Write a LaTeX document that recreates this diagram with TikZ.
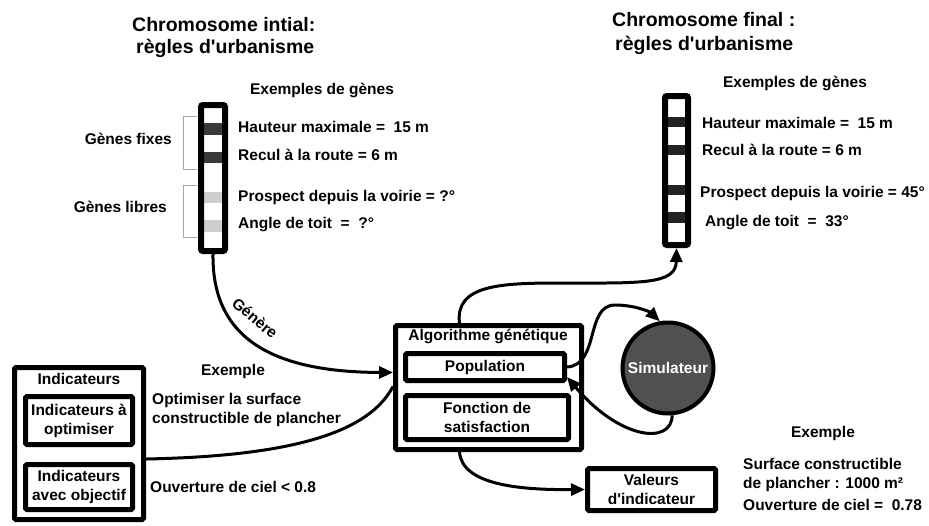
\documentclass[tikz,border=0pt]{standalone}
\usepackage{fontspec}
\setmainfont{Liberation Sans}[Ligatures=TeXOff]
\usetikzlibrary{arrows.meta,calc}
\definecolor{simgray}{HTML}{505050}
\definecolor{genedark}{HTML}{3A3A3A}
\definecolor{genelight}{HTML}{CFCFCF}
\definecolor{genefinal}{HTML}{222222}
\begin{document}
\begin{tikzpicture}[x=1pt,y=-1pt,
  every node/.style={inner sep=0pt,font=\bfseries\fontsize{15.5}{19}\selectfont},
  ttl/.style={font=\bfseries\fontsize{19.5}{23}\selectfont},
  box/.style={draw,line width=5pt,rounded corners=1.5pt,align=center},
  conn/.style={line width=3pt},
  arr/.style={conn,-{Triangle[length=14pt,width=12pt]}},
  brk/.style={draw=gray!70,line width=0.9pt},
  chrom/.style={draw,line width=6pt,rounded corners=2pt}
]
\useasboundingbox (0,0) rectangle (929,525);

% titles
\node[ttl,anchor=west] (t1a) at (132,25) {Chromosome intial:};
\node[ttl,anchor=west] (t1b) at (136,48) {règles d'urbanisme};
\node[ttl,anchor=west] (t2a) at (612,20) {Chromosome final :};
\node[ttl,anchor=west] (t2b) at (615,45) {règles d'urbanisme};

% left chromosome
\fill[genedark] (204,123) rectangle (222,135);
\fill[genedark] (204,152) rectangle (222,163);
\fill[genelight] (204,192) rectangle (222,203);
\fill[genelight] (204,220) rectangle (222,232);
\node[chrom,minimum width=24pt,minimum height=146pt] (chL) at (213,178) {};

% brackets
\draw[brk] (197,116) -- (183,116) -- (183,169) -- (197,169);
\draw[brk] (197,185) -- (183,185) -- (183,237) -- (197,237);
\node[anchor=east] (gf) at (172,139) {Gènes fixes};
\node[anchor=east] (gl) at (167,207) {Gènes libres};

\node (exL) at (322,90) {Exemples de gènes};
\node[anchor=west] (hL) at (238,127) {Hauteur maximale = \ 15 m};
\node[anchor=west] (rL) at (238,155) {Recul à la route = 6 m};
\node[anchor=west] (pL) at (238,197) {Prospect depuis la voirie = ?°};
\node[anchor=west] (aL) at (238,225) {Angle de toit \ = \ ?°};

% right chromosome
\fill[genefinal] (665,117) rectangle (688,127);
\fill[genefinal] (665,145) rectangle (688,155);
\fill[genefinal] (665,185) rectangle (688,195);
\fill[genefinal] (665,212) rectangle (688,223);
\node[chrom,minimum width=23pt,minimum height=149pt] (chR) at (676.5,170.5) {};

\node (exR) at (795,83) {Exemples de gènes};
\node[anchor=west] (hR) at (702,123) {Hauteur maximale = \ 15 m};
\node[anchor=west] (rR) at (702,150) {Recul à la route = 6 m};
\node[anchor=west] (pR) at (700,193) {Prospect depuis la voirie = 45°};
\node[anchor=west] (aR) at (705,223) {Angle de toit \ = \ 33°};

% indicators
\node[box,minimum width=129pt,minimum height=152pt] (Ind) at (79,443.5) {};
\node (IndT) at (79,379) {Indicateurs};
\node[box,minimum width=107pt,minimum height=48pt] (I1) at (79,420.5) {Indicateurs à\\optimiser};
\node[box,minimum width=107pt,minimum height=45pt] (I2) at (79,487) {Indicateurs\\avec objectif};

\node (ex1) at (233,371) {Exemple};
\node[anchor=west,align=left] (opt) at (152,409.5) {Optimiser la surface\\constructible de plancher};
\node[anchor=west] (ouv) at (150,487) {Ouverture de ciel < 0.8};

% genetic algorithm
\node[box,minimum width=186pt,minimum height=124pt] (GA) at (488.5,387.5) {};
\node (GAt) at (488,336) {Algorithme génétique};
\node[box,minimum width=159pt,minimum height=27pt] (Pop) at (485,367) {Population};
\node[box,minimum width=163pt,minimum height=44pt] (Fon) at (487,417.5) {Fonction de\\satisfaction};

\node[draw,circle,line width=4pt,fill=simgray,minimum size=91pt,text=white] (Sim) at (668,368) {Simulateur};

\node[box,minimum width=128pt,minimum height=42pt] (Val) at (651.5,489.5) {Valeurs\\d'indicateur};
\node (ex2) at (823,433) {Exemple};
\node[anchor=west,align=left] (surf) at (743,474.5) {Surface constructible\\de plancher : 1000 m²};
\node[anchor=west] (ouv2) at (743,505) {Ouverture de ciel = \ 0.78};

% connectors
\draw[arr] (chL.south) .. controls (212,330) and (260,372) .. ($(GA.west)+(0,-15)$);
\node[rotate=-40] (gen) at (255,318) {Génère};
\draw[conn] ($(Ind.east)+(0,15.5)$) .. controls (300,456) and (370,430) .. ($(GA.west)+(0,-1)$);
\draw[arr] (Pop.east) .. controls (600,365) and (585,305) .. (615,305) .. controls (635,305) and (650,312) .. (Sim.100);
\draw[arr] (Sim.275) .. controls (672,445) and (620,440) .. ($(Pop.east)+(0,10)$);
\draw[arr] ($(GA.north)+(-29,0)$) .. controls (455,285) and (500,283) .. (560,283) .. controls (640,283) and (676,285) .. (chR.south);
\draw[arr] ($(GA.south)+(-29,0)$) .. controls (462,485) and (520,490) .. (Val.west);
\end{tikzpicture}
\end{document}
